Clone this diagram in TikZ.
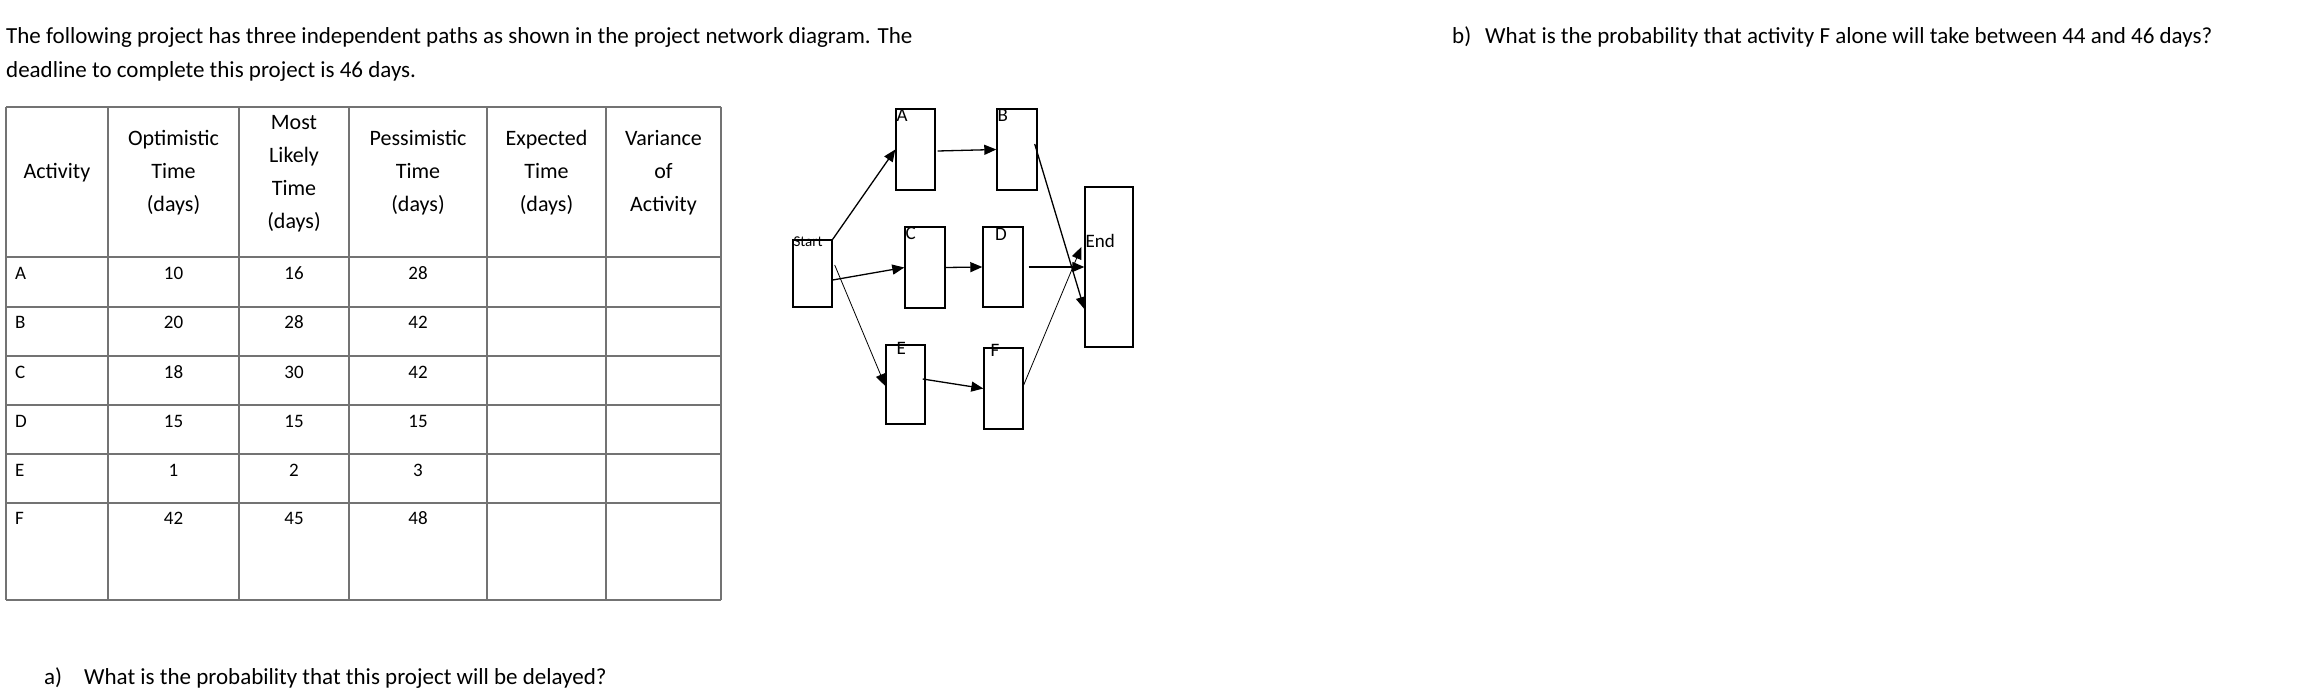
\documentclass[tikz,border=0pt]{standalone}
\usepackage{fontspec}
\setmainfont{Carlito}
\usetikzlibrary{arrows.meta,calc}
\begin{document}
\begin{tikzpicture}[x=1pt,y=-1pt,
  txt/.style={inner sep=0pt,font=\fontsize{23}{34}\selectfont},
  hdr/.style={inner sep=0pt,align=center,font=\fontsize{22}{33}\selectfont},
  cell/.style={inner sep=0pt,font=\fontsize{19}{23}\selectfont},
  grid/.style={draw=black!55,line width=1.4pt},
  box/.style={draw,line width=1.4pt,inner sep=0pt},
  blab/.style={inner sep=1pt,anchor=north west,font=\fontsize{19}{20}\selectfont},
  arr/.style={line width=1.3pt,-{Triangle[length=12pt,width=10pt]}}]
\useasboundingbox (0,0) rectangle (2324,698);
% texts
\node[txt,anchor=base west] (t1) at (6,44) {The following project has three independent paths as shown in the project network diagram. The};
\node[txt,anchor=base west] (t2) at (6,78) {deadline to complete this project is 46 days.};
\node[txt,anchor=base west] (qa) at (44,684) {a)\hspace{22pt}What is the probability that this project will be delayed?};
\node[txt,anchor=base west] (qb) at (1452,44) {b)\hspace{14pt}What is the probability that activity F alone will take between 44 and 46 days?};
% table grid
\foreach \x in {6,108,239,349,487,606,721} \draw[grid] (\x,107) -- (\x,600);
\foreach \y in {107,257,307,356,405,454,503,600} \draw[grid] (6,\y) -- (721,\y);
\node[hdr] (h1) at (57,173) {Activity};
\node[hdr] (h2) at (173.5,173) {Optimistic\\Time\\(days)};
\node[hdr] (h3) at (294,173.5) {Most\\Likely\\Time\\(days)};
\node[hdr] (h4) at (418,173) {Pessimistic\\Time\\(days)};
\node[hdr] (h5) at (546.5,173) {Expected\\Time\\(days)};
\node[hdr] (h6) at (663.5,173) {Variance\\of\\Activity};
\foreach \r/\y/\a/\b/\c/\d in {1/273/A/10/16/28,2/322/B/20/28/42,3/372/C/18/30/42,4/421/D/15/15/15,5/470/E/1/2/3,6/518/F/42/45/48}{
  \node[cell,anchor=west] (r\r a) at (15,\y) {\a};
  \node[cell] (r\r b) at (173.5,\y) {\b};
  \node[cell] (r\r c) at (294,\y) {\c};
  \node[cell] (r\r d) at (418,\y) {\d};
}
% network
\node[box,minimum width=39pt,minimum height=67pt] (S) at (812.5,273.5) {};
\node[box,minimum width=39pt,minimum height=81pt] (A) at (915.5,149.5) {};
\node[box,minimum width=40pt,minimum height=81pt] (B) at (1017,149.5) {};
\node[box,minimum width=40pt,minimum height=81pt] (C) at (925,267.5) {};
\node[box,minimum width=40pt,minimum height=80pt] (D) at (1003,267) {};
\node[box,minimum width=48pt,minimum height=160pt] (End) at (1109,267) {};
\node[box,minimum width=39pt,minimum height=79pt] (E) at (905.5,384.5) {};
\node[box,minimum width=39pt,minimum height=81pt] (F) at (1003.5,388.5) {};
\node[blab,font=\fontsize{15}{16}\selectfont] (lS) at ([yshift=4pt]S.north west) {Start};
\node[blab] (lA) at (A.north west) {A};
\node[blab] (lB) at (B.north west) {B};
\node[blab] (lC) at (C.north west) {C};
\node[blab,anchor=north] (lD) at ([xshift=-2pt,yshift=-1pt]D.north) {D};
\node[blab] (lE) at ([xshift=10pt,yshift=3pt]E.north west) {E};
\node[blab] (lF) at ([xshift=6pt,yshift=4pt]F.north west) {F};
\node[blab] (lEnd) at ([yshift=-47pt]End.north west) {End};
\draw[arr] (S.north east) -- (A.west);
\draw[arr] ([xshift=2pt,yshift=-1.5pt]A.east) -- (B.west);
\draw[arr] ([xshift=-3pt,yshift=5.5pt]B.east) -- ([yshift=-42pt]End.west);
\draw[arr] ([yshift=-6.5pt]S.east) -- (C.west);
\draw[arr] (C.east) -- (D.west);
\draw[arr] ([xshift=5pt]D.east) -- (End.west);
\draw[arr,line width=0.8pt] ([xshift=2pt,yshift=8.5pt]S.east) -- ([yshift=-1.5pt]E.west);
\draw[arr] ([xshift=-3pt,yshift=5.5pt]E.east) -- (F.west);
\draw[arr,line width=0.8pt] ([yshift=3.5pt]F.east) -- ([xshift=-3pt,yshift=20pt]End.west);
\end{tikzpicture}
\end{document}
